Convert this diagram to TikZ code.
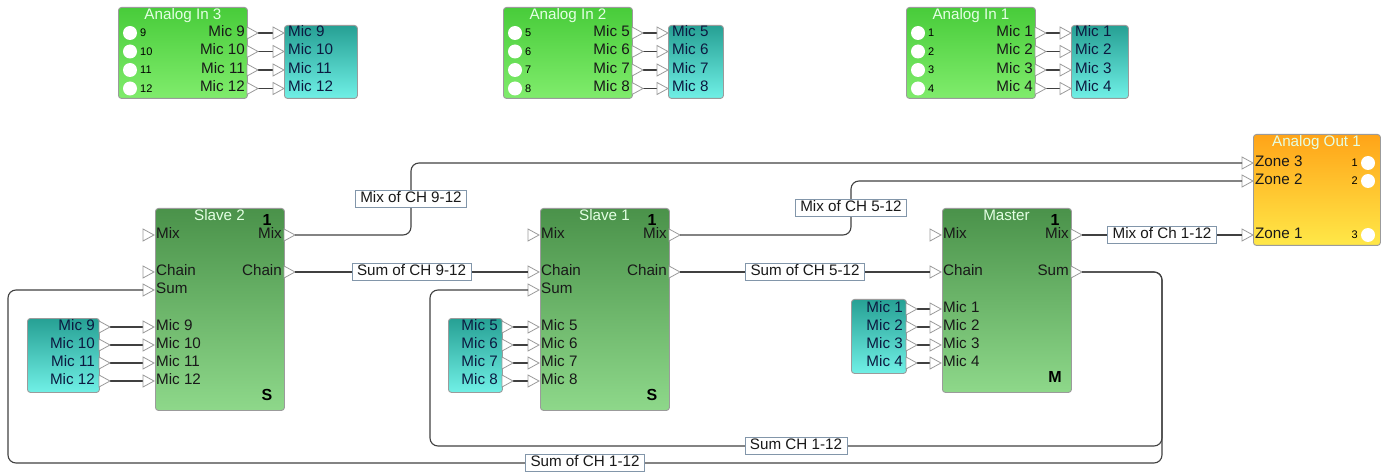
\documentclass[tikz,border=0pt]{standalone}
\usepackage{fontspec}
\setmainfont{Liberation Sans}
\usetikzlibrary{arrows.meta, positioning, calc}

\definecolor{wirec}{RGB}{64,64,64}
\definecolor{edgec}{RGB}{155,155,155}
\definecolor{ingtop}{RGB}{72,204,58}
\definecolor{ingbot}{RGB}{128,236,108}
\definecolor{mictop}{RGB}{38,160,148}
\definecolor{micbot}{RGB}{112,240,230}
\definecolor{dsptop}{RGB}{74,146,74}
\definecolor{dspbot}{RGB}{142,216,138}
\definecolor{outtop}{RGB}{255,164,24}
\definecolor{outbot}{RGB}{255,232,72}
\definecolor{titlec}{RGB}{228,255,228}
\definecolor{tagedge}{RGB}{130,150,170}
\definecolor{navy}{RGB}{12,26,64}

\tikzset{
  box/.style={draw=edgec, line width=0.9pt, rounded corners=3pt, anchor=north west, inner sep=0pt},
  analogin/.style={box, top color=ingtop, bottom color=ingbot},
  micbox/.style={box, top color=mictop, bottom color=micbot},
  dspbox/.style={box, top color=dsptop, bottom color=dspbot},
  analogout/.style={box, top color=outtop, bottom color=outbot},
  txt/.style={font=\fontsize{15.2}{16}\selectfont, inner sep=0pt, text height=0.66em, text depth=0pt, text=black!90},
  mictxt/.style={txt, text=navy},
  title/.style={txt, text=titlec},
  small/.style={font=\fontsize{11}{12}\selectfont, inner sep=0pt, text height=0.72em, text depth=0pt},
  badge/.style={font=\bfseries\fontsize{16}{17}\selectfont, inner sep=0pt, text height=0.72em, text depth=0pt},
  wire/.style={draw=wirec, line width=1.1pt, rounded corners=8pt},
  tag/.style={txt, draw=tagedge, line width=0.9pt, fill=white, minimum height=17pt, inner xsep=5pt, sharp corners},
  pics/port/.style={code={\draw[draw=edgec, fill=white, line width=0.8pt] (0,-6) -- (11,0) -- (0,6) -- cycle;}}
}

\begin{document}
\begin{tikzpicture}[x=1pt, y=-1pt]
  \useasboundingbox (0,0) rectangle (1385,473);

  % analog inputs and their mic outputs
  \foreach \bx/\mx/\mr/\n/\first in {118/284/357/3/9, 503/668/723/2/5, 906/1071/1128/1/1}{
    \node[analogin, minimum width=129, minimum height=91] (in\n) at (\bx,7) {};
    \node[micbox, minimum width=\mr-\mx, minimum height=73] (in\n mic) at (\mx,25) {};
    \node[title] at ($(in\n.north)+(0,9)$) {Analog In \n};
    \foreach \k in {0,...,3}{
      \pgfmathtruncatemacro\m{\first+\k}
      \pgfmathsetmacro\yy{33+18.5*\k}
      \fill[white] (\bx+12,\yy) circle (7);
      \node[small, anchor=west] at (\bx+22,\yy) {\m};
      \node[txt, anchor=east] at (\bx+127,\yy) {Mic \m};
      \node[mictxt, anchor=west] at (\mx+4,\yy) {Mic \m};
      \coordinate (in\n-o\m) at (\bx+140,\yy);
      \coordinate (in\n-i\m) at (\mx-11,\yy);
      \draw[wire] (in\n-o\m) -- (in\n-i\m);
      \pic at (\bx+129,\yy) {port};
      \pic at (\mx-11,\yy) {port};
    }
  }

  % slave processors
  \foreach \bx/\n/\name/\first/\mx/\mr in {155/s2/Slave 2/9/27/99, 540/s1/Slave 1/5/448/502}{
    \node[dspbox, minimum width=129, minimum height=202] (\n) at (\bx,208) {};
    \node[title] at (\bx+64.5,217) {\name};
    \node[badge] at (\bx+112,222) {1};
    \node[badge] at (\bx+112,397) {S};
    \foreach \yy/\lab/\pn in {235/Mix/mixi, 272/Chain/chaini, 290/Sum/sumi}{
      \pic at (\bx-12,\yy) {port};
      \coordinate (\n-\pn) at (\bx-12,\yy);
      \node[txt, anchor=west] at (\bx+1,\yy) {\lab};
    }
    \foreach \yy/\lab/\pn in {235/Mix/mixo, 272/Chain/chaino}{
      \pic at (\bx+129,\yy) {port};
      \coordinate (\n-\pn) at (\bx+140,\yy);
      \node[txt, anchor=east] at (\bx+127,\yy) {\lab};
    }
    \node[micbox, minimum width=\mr-\mx, minimum height=74] (\n mic) at (\mx,318) {};
    \foreach \k in {0,...,3}{
      \pgfmathtruncatemacro\m{\first+\k}
      \pgfmathsetmacro\yy{327+18*\k}
      \node[mictxt, anchor=east] at (\mr-4,\yy) {Mic \m};
      \node[txt, anchor=west] at (\bx+1,\yy) {Mic \m};
      \coordinate (\n-mo\m) at (\mr+11,\yy);
      \coordinate (\n-mi\m) at (\bx-12,\yy);
      \draw[wire] (\n-mo\m) -- (\n-mi\m);
      \pic at (\mr,\yy) {port};
      \pic at (\bx-12,\yy) {port};
    }
  }

  % master
  \node[dspbox, minimum width=129, minimum height=184] (master) at (942,208) {};
  \node[title] at (1006.5,217) {Master};
  \node[badge] at (1055,222) {1};
  \node[badge] at (1055,379) {M};
  \foreach \yy/\lab/\pn in {235/Mix/mixi, 272/Chain/chaini}{
    \pic at (930,\yy) {port};
    \coordinate (m-\pn) at (930,\yy);
    \node[txt, anchor=west] at (943,\yy) {\lab};
  }
  \foreach \yy/\lab/\pn in {235/Mix/mixo, 272/Sum/sumo}{
    \pic at (1071,\yy) {port};
    \coordinate (m-\pn) at (1082,\yy);
    \node[txt, anchor=east] at (1069,\yy) {\lab};
  }
  \node[micbox, minimum width=55, minimum height=74] (mmic) at (851,299) {};
  \foreach \k in {1,...,4}{
    \pgfmathsetmacro\yy{291+18*\k}
    \node[mictxt, anchor=east] at (903,\yy) {Mic \k};
    \node[txt, anchor=west] at (943,\yy) {Mic \k};
    \coordinate (m-mo\k) at (917,\yy);
    \coordinate (m-mi\k) at (930,\yy);
    \draw[wire] (m-mo\k) -- (m-mi\k);
    \pic at (906,\yy) {port};
    \pic at (930,\yy) {port};
  }

  % analog output
  \node[analogout, minimum width=127, minimum height=111] (out1) at (1253,134) {};
  \node[title] at (1316.5,143) {Analog Out 1};
  \foreach \yy/\z/\c in {163/3/1, 181/2/2, 235/1/3}{
    \pic at (1242,\yy) {port};
    \coordinate (z\z i) at (1242,\yy);
    \node[txt, anchor=west] at (1255,\yy) {Zone \z};
    \node[small, anchor=east] at (1358,\yy) {\c};
    \fill[white] (1368,\yy) circle (7);
  }

  % connections
  \draw[wire] (s2-mixo) -- ++(116,0) |- node[tag, pos=0.25] {Mix of CH 9-12} (z3i);
  \draw[wire] (s1-mixo) -- ++(171,0) |- node[tag, pos=0.25] {Mix of CH 5-12} (z2i);
  \draw[wire] (s2-chaino) -- node[tag] {Sum of CH 9-12} (s1-chaini);
  \draw[wire] (s1-chaino) -- node[tag] {Sum of CH 5-12} (m-chaini);
  \draw[wire] (m-mixo) -- node[tag] {Mix of Ch 1-12} (z1i);
  \draw[wire] (m-sumo) -- ++(80,0) -- ++(0,174) -| node[tag, pos=0.25] {Sum CH 1-12} ($(s1-sumi)+(-98,0)$) -- (s1-sumi);
  \draw[wire] (m-sumo) -- ++(80,0) -- ++(0,191) -| node[tag, pos=0.25] {Sum of CH 1-12} ($(s2-sumi)+(-135,0)$) -- (s2-sumi);
\end{tikzpicture}
\end{document}
